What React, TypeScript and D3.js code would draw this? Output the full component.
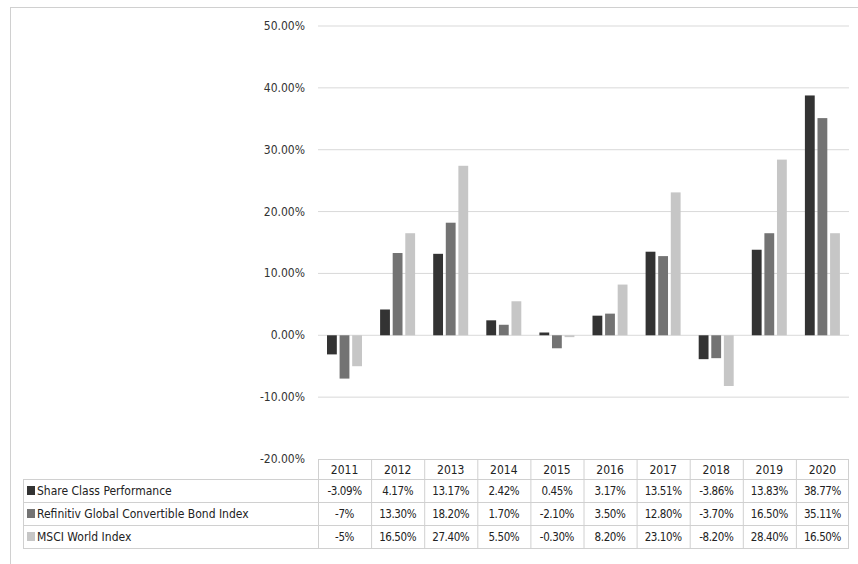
import React from "react";
import * as d3 from "d3";

const years = ["2011","2012","2013","2014","2015","2016","2017","2018","2019","2020"];
const seriesNames = ["Share Class Performance","Refinitiv Global Convertible Bond Index","MSCI World Index"];
const shareClass = [-3.09,4.17,13.17,2.42,0.45,3.17,13.51,-3.86,13.83,38.77];
const refinitiv = [-7,13.3,18.2,1.7,-2.1,3.5,12.8,-3.7,16.5,35.11];
const msci = [-5,16.5,27.4,5.5,-0.3,8.2,23.1,-8.2,28.4,16.5];
const shareLabels = ["-3.09%","4.17%","13.17%","2.42%","0.45%","3.17%","13.51%","-3.86%","13.83%","38.77%"];
const refLabels = ["-7%","13.30%","18.20%","1.70%","-2.10%","3.50%","12.80%","-3.70%","16.50%","35.11%"];
const msciLabels = ["-5%","16.50%","27.40%","5.50%","-0.30%","8.20%","23.10%","-8.20%","28.40%","16.50%"];
const yTicks = [-20,-10,0,10,20,30,40,50];
const colors = ["#333333","#737373","#c6c6c6"];

export default function App() {
  const W = 858, H = 564;
  const x = d3.scaleBand().domain(years).range([318, 849]);
  const y = d3.scaleLinear().domain([-20, 50]).range([459, 26]);
  const inner = d3.scaleBand().domain(["0","1","2"]).range([9, 44]).paddingInner(0.22);
  const data = [shareClass, refinitiv, msci];
  const labels = [shareLabels, refLabels, msciLabels];
  const font = "'DejaVu Sans Condensed', 'Liberation Sans Narrow', sans-serif";
  const rowY = [479, 502, 525, 548];
  return (
    <svg width={W} height={H} style={{ position: "absolute", left: 0, top: 0 }} fontFamily={font}>
      <rect x={0} y={0} width={W} height={H} fill="#fff" />
      <line x1={10} x2={W} y1={7.5} y2={7.5} stroke="#d0d0d0" />
      <line x1={10.5} x2={10.5} y1={7} y2={H} stroke="#d0d0d0" />
      {yTicks.map(t => (
        <g key={t}>
          {t > -20 && <line x1={318} x2={849} y1={y(t)} y2={y(t)} stroke="#d9d9d9" />}
          <text x={305} y={y(t) + 4} textAnchor="end" fontSize={12} fill="#333">{t.toFixed(2)}%</text>
        </g>
      ))}
      {data.map((s, si) => s.map((v, i) => (
        <rect key={si + "-" + i} x={x(years[i])! + inner(String(si))!} width={inner.bandwidth()}
          y={y(Math.max(0, v))} height={Math.abs(y(v) - y(0))} fill={colors[si]} />
      )))}
      <g stroke="#d0d0d0" fill="none">
        <line x1={318} x2={849} y1={459.5} y2={459.5} />
        {rowY.map(r => <line key={r} x1={23} x2={849} y1={r + 0.5} y2={r + 0.5} />)}
        {years.map(yr => <line key={yr} x1={x(yr)! + 0.5} x2={x(yr)! + 0.5} y1={459} y2={548} />)}
        <line x1={848.5} x2={848.5} y1={459} y2={548} />
        <line x1={23.5} x2={23.5} y1={479} y2={548} />
      </g>
      {years.map(yr => (
        <text key={yr} x={x(yr)! + x.bandwidth() / 2} y={474} textAnchor="middle" fontSize={12} fill="#222">{yr}</text>
      ))}
      {seriesNames.map((n, si) => (
        <g key={n}>
          <rect x={27} y={rowY[si] + 7} width={8} height={9} fill={colors[si]} />
          <text x={37} y={rowY[si] + 16} fontSize={12} fill="#222">{n}</text>
          {labels[si].map((l, i) => (
            <text key={i} x={x(years[i])! + x.bandwidth() / 2} y={rowY[si] + 16} textAnchor="middle" fontSize={11.5} fill="#222" letterSpacing={-0.4}>{l}</text>
          ))}
        </g>
      ))}
    </svg>
  );
}
